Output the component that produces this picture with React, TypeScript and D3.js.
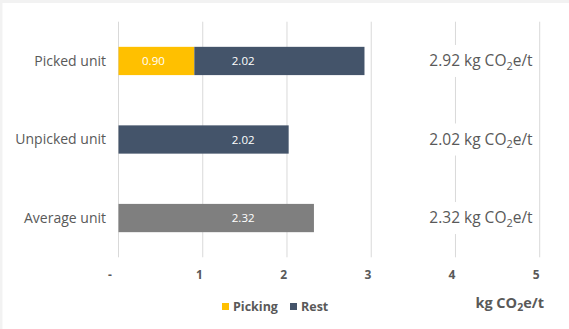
import React from "react";
import * as d3 from "d3";

const categories = ["Picked unit", "Unpicked unit", "Average unit"];
const pickingValues = [0.9, 0, 0];
const restValues = [2.02, 2.02, 0];
const averageValues = [0, 0, 2.32];
const totalLabels = ["2.92", "2.02", "2.32"];
const xTicks = [0, 1, 2, 3, 4, 5];
const legendItems = ["Picking", "Rest"];

const W = 569;
const H = 329;
const TEXT = "#595959";
const FONT = "'Open Sans', 'Noto Sans', sans-serif";
const C_PICK = "#FFC000";
const C_REST = "#44546A";
const C_AVG = "#7F7F7F";

export default function App() {
  const x = d3.scaleLinear().domain([0, 5]).range([118.5, 539.7]);
  const y = d3.scaleBand().domain(categories).range([21.7, 257.3]).paddingInner(0.64).paddingOuter(0.32);
  const bh = y.bandwidth();
  const restLabelPos = 1.48;

  return (
    <div style={{ position: "fixed", left: 0, top: 0 }}>
      <svg width={W} height={H} style={{ display: "block", fontFamily: FONT }}>
        <rect x={0} y={0} width={W} height={H} fill="#f2f2f2" />
        <rect x={2.5} y={3} width={W - 2.5} height={H - 3} fill="#ffffff" />
        {xTicks.map((t) => (
          <line key={"g" + t} x1={x(t)} x2={x(t)} y1={21.7} y2={257.3} stroke="#d9d9d9" strokeWidth={1} />
        ))}
        {categories.map((c, i) => {
          const yc = (y(c) as number) + bh / 2;
          return (
            <g key={c}>
              <text x={106} y={yc} dy="0.35em" textAnchor="end" fontSize={14} fill={TEXT}>
                {c}
              </text>
              {pickingValues[i] > 0 && (
                <rect x={x(0)} y={y(c)} width={x(pickingValues[i]) - x(0)} height={bh} fill={C_PICK} />
              )}
              {restValues[i] > 0 && (
                <rect
                  x={x(pickingValues[i])}
                  y={y(c)}
                  width={x(pickingValues[i] + restValues[i]) - x(pickingValues[i])}
                  height={bh}
                  fill={C_REST}
                />
              )}
              {averageValues[i] > 0 && (
                <rect x={x(0)} y={y(c)} width={x(averageValues[i]) - x(0)} height={bh} fill={C_AVG} />
              )}
              {pickingValues[i] > 0 && (
                <text x={x(pickingValues[i] / 2) - 3} y={yc} dy="0.35em" textAnchor="middle" fontSize={11.5} fill="#ffffff">
                  {pickingValues[i].toFixed(2)}
                </text>
              )}
              {(restValues[i] > 0 || averageValues[i] > 0) && (
                <text x={x(restLabelPos)} y={yc} dy="0.35em" textAnchor="middle" fontSize={11.5} fill="#ffffff">
                  {(restValues[i] || averageValues[i]).toFixed(2)}
                </text>
              )}
              <rect x={424} y={yc - 16} width={113} height={32} fill="#ffffff" />
              <text x={481} y={yc} dy="0.35em" textAnchor="middle" fontSize={15.5} fill={TEXT}>
                {totalLabels[i]} kg CO
                <tspan fontSize={11} dy="3.5">2</tspan>
                <tspan dy="-3.5">e/t</tspan>
              </text>
            </g>
          );
        })}
        {xTicks.map((t) => (
          <text
            key={"t" + t}
            x={x(t) - (t === 0 ? 8.5 : 3.4)}
            y={275}
            dy="0.35em"
            textAnchor="middle"
            fontSize={12}
            fontWeight="bold"
            fill={TEXT}
          >
            {t === 0 ? "-" : String(t)}
          </text>
        ))}
        {legendItems.map((name, i) => {
          const lx = i === 0 ? 222 : 290;
          return (
            <g key={name}>
              <rect x={lx} y={303} width={7} height={7} fill={i === 0 ? C_PICK : C_REST} />
              <text x={lx + 11} y={306.7} dy="0.35em" fontSize={12.5} fontWeight="bold" fill={TEXT}>
                {name}
              </text>
            </g>
          );
        })}
        <text x={544} y={303.3} dy="0.35em" textAnchor="end" fontSize={14.5} fontWeight="bold" fill={TEXT}>
          kg CO
          <tspan fontSize={10.5} dy="3">2</tspan>
          <tspan dy="-3">e/t</tspan>
        </text>
      </svg>
    </div>
  );
}
